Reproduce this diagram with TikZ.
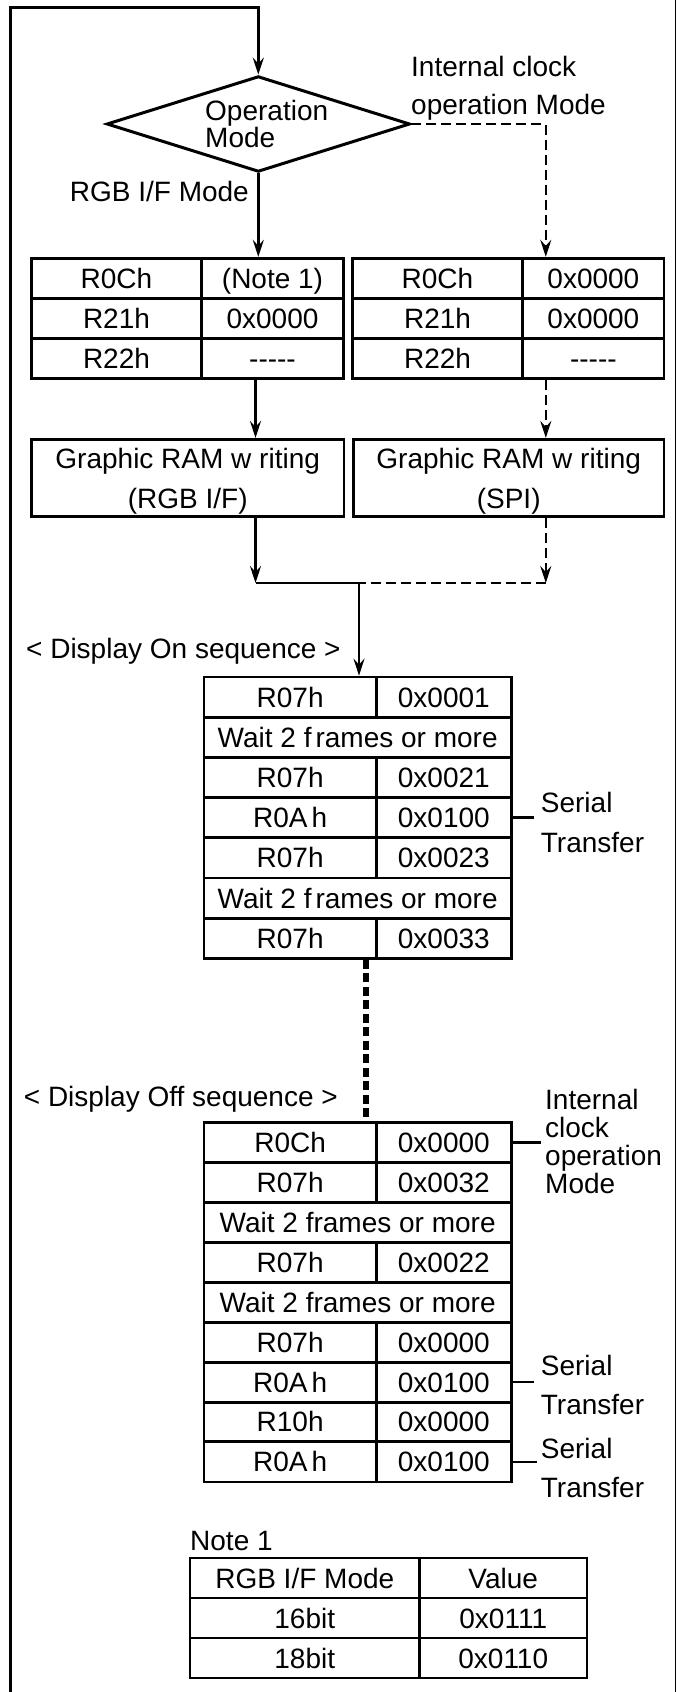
\documentclass[tikz,border=0pt]{standalone}
\usepackage{fontspec}
\setmainfont{Liberation Sans}
\usetikzlibrary{shapes.geometric,arrows.meta,calc}

\begin{document}
\begin{tikzpicture}[x=1pt,y=1pt,yscale=-1,xscale=1,
  txt/.style={inner sep=0pt,font=\fontsize{28}{34}\selectfont},
  cell/.style={draw,line width=2.7pt,inner sep=0pt,minimum height=40.2pt,text height=20pt,text depth=0pt,font=\fontsize{28}{34}\selectfont},
  rambox/.style={draw,line width=2.7pt,inner sep=0pt,align=center,text depth=0pt,font=\fontsize{28}{40}\selectfont},
  flow/.style={line width=2.5pt,-{Stealth[length=17pt,width=11pt,inset=6pt]}},
  dflow/.style={flow,dash pattern=on 10pt off 5pt},
  plain/.style={line width=2.5pt},
  dplain/.style={plain,dash pattern=on 10pt off 5pt}]
\useasboundingbox (0,0) rectangle (677,1692);

%Coordinates used by the connectors
\coordinate (loopbot) at (10,1692);
\coordinate (looptop) at (258.3,7);
\coordinate (lcol) at (255.5,0);
\coordinate (rcol) at (545.8,0);
\coordinate (merge) at (359,583);
\coordinate (seqlink) at (365.5,0);
\coordinate (onserend) at (534,817.7);
\coordinate (offintend) at (540.6,1142.65);
\coordinate (offser1end) at (534,1382.05);
\coordinate (offser2end) at (536.7,1461.85);

%Straight Lines
\draw [line width=1.2pt] (675.5,0) -- (675.5,1692);

%Shape: Diamond
\draw (258.3,124) node [diamond,draw,line width=3pt,minimum width=303.3pt,minimum height=95.7pt,inner sep=0pt] (mode) {};
% Text Node
\draw (205,124) node [txt,anchor=west,align=left,font=\fontsize{28}{27.7}\selectfont] (modetxt) {Operation\\Mode};
% Text Node
\draw (411,88.5) node [txt,anchor=west,align=left,font=\fontsize{28}{37.6}\selectfont] (inttxt) {Internal clock\\operation Mode};
% Text Node
\draw (249,201) node [txt,anchor=base east] (rgbtxt) {RGB I/F Mode};

%Table: RGB I/F registers
\draw (116.5,278.3) node [cell,minimum width=170.4pt] (rgbA1) {R0Ch};
\draw (272.5,278.3) node [cell,minimum width=141.6pt] (rgbB1) {(Note 1)};
\draw (116.5,318.3) node [cell,minimum width=170.4pt] (rgbA2) {R21h};
\draw (272.5,318.3) node [cell,minimum width=141.6pt] (rgbB2) {0x0000};
\draw (116.5,358.3) node [cell,minimum width=170.4pt] (rgbA3) {R22h};
\draw (272.5,358.3) node [cell,minimum width=141.6pt] (rgbB3) {-{}-{}-{}-{}-};

%Table: internal clock registers
\draw (437.5,278.3) node [cell,minimum width=170.4pt] (intA1) {R0Ch};
\draw (593.4,278.3) node [cell,minimum width=141.3pt] (intB1) {0x0000};
\draw (437.5,318.3) node [cell,minimum width=170.4pt] (intA2) {R21h};
\draw (593.4,318.3) node [cell,minimum width=141.3pt] (intB2) {0x0000};
\draw (437.5,358.3) node [cell,minimum width=170.4pt] (intA3) {R22h};
\draw (593.4,358.3) node [cell,minimum width=141.3pt] (intB3) {-{}-{}-{}-{}-};

%Shape: Rectangle
\draw (187.7,478) node [rambox,minimum width=312.7pt,minimum height=77.4pt] (gramL) {Graphic RAM w riting\\(RGB I/F)};
%Shape: Rectangle
\draw (508.7,478) node [rambox,minimum width=310.7pt,minimum height=77.4pt] (gramR) {Graphic RAM w riting\\(SPI)};

% Text Node
\draw (26,658.3) node [txt,anchor=base west] (ontxt) {< Display On sequence >};

%Table: display on
\draw (290.15,697.1) node [cell,minimum width=172.3pt] (onA1) {R07h};
\draw (443.8,697.1) node [cell,minimum width=135pt] (onB1) {0x0001};
\draw (357.65,737.3) node [cell,minimum width=307.3pt] (onW2) {Wait 2 f\kern4pt rames or more};
\draw (290.15,777.5) node [cell,minimum width=172.3pt] (onA3) {R07h};
\draw (443.8,777.5) node [cell,minimum width=135pt] (onB3) {0x0021};
\draw (290.15,817.7) node [cell,minimum width=172.3pt] (onA4) {R0A\kern4pt h};
\draw (443.8,817.7) node [cell,minimum width=135pt] (onB4) {0x0100};
\draw (290.15,857.9) node [cell,minimum width=172.3pt] (onA5) {R07h};
\draw (443.8,857.9) node [cell,minimum width=135pt] (onB5) {0x0023};
\draw (357.65,898.1) node [cell,minimum width=307.3pt] (onW6) {Wait 2 f\kern4pt rames or more};
\draw (290.15,938.3) node [cell,minimum width=172.3pt] (onA7) {R07h};
\draw (443.8,938.3) node [cell,minimum width=135pt] (onB7) {0x0033};

% Text Node
\draw (540.7,822.3) node [txt,anchor=west,align=left,font=\fontsize{28}{39.6}\selectfont] (onser) {Serial\\Transfer};

% Text Node
\draw (23.7,1106.7) node [txt,anchor=base west] (offtxt) {< Display Off sequence >};

%Table: display off
\draw (290.15,1142.65) node [cell,minimum width=172.3pt] (offA1) {R0Ch};
\draw (443.8,1142.65) node [cell,minimum width=135pt] (offB1) {0x0000};
\draw (290.15,1182.55) node [cell,minimum width=172.3pt] (offA2) {R07h};
\draw (443.8,1182.55) node [cell,minimum width=135pt] (offB2) {0x0032};
\draw (357.65,1222.45) node [cell,minimum width=307.3pt] (offW3) {Wait 2 frames or more};
\draw (290.15,1262.35) node [cell,minimum width=172.3pt] (offA4) {R07h};
\draw (443.8,1262.35) node [cell,minimum width=135pt] (offB4) {0x0022};
\draw (357.65,1302.25) node [cell,minimum width=307.3pt] (offW5) {Wait 2 frames or more};
\draw (290.15,1342.15) node [cell,minimum width=172.3pt] (offA6) {R07h};
\draw (443.8,1342.15) node [cell,minimum width=135pt] (offB6) {0x0000};
\draw (290.15,1382.05) node [cell,minimum width=172.3pt] (offA7) {R0A\kern4pt h};
\draw (443.8,1382.05) node [cell,minimum width=135pt] (offB7) {0x0100};
\draw (290.15,1421.95) node [cell,minimum width=172.3pt] (offA8) {R10h};
\draw (443.8,1421.95) node [cell,minimum width=135pt] (offB8) {0x0000};
\draw (290.15,1461.85) node [cell,minimum width=172.3pt] (offA9) {R0A\kern4pt h};
\draw (443.8,1461.85) node [cell,minimum width=135pt] (offB9) {0x0100};

% Text Node
\draw (545,1141.8) node [txt,anchor=west,align=left,font=\fontsize{28}{28}\selectfont] (offint) {Internal\\clock\\operation\\Mode};
% Text Node
\draw (540.7,1385.3) node [txt,anchor=west,align=left,font=\fontsize{28}{39}\selectfont] (offser1) {Serial\\Transfer};
% Text Node
\draw (540.7,1467.6) node [txt,anchor=west,align=left,font=\fontsize{28}{39}\selectfont] (offser2) {Serial\\Transfer};

% Text Node
\draw (190,1550.7) node [txt,anchor=base west] (notetxt) {Note 1};

%Table: note 1
\draw (304.75,1578) node [cell,minimum width=229.5pt] (noteA1) {RGB I/F Mode};
\draw (503.25,1578) node [cell,minimum width=167.5pt] (noteB1) {Value};
\draw (304.75,1618) node [cell,minimum width=229.5pt] (noteA2) {16bit};
\draw (503.25,1618) node [cell,minimum width=167.5pt] (noteB2) {0x0111};
\draw (304.75,1658) node [cell,minimum width=229.5pt] (noteA3) {18bit};
\draw (503.25,1658) node [cell,minimum width=167.5pt] (noteB3) {0x0110};

%Connectors
\draw [flow,line width=3pt] (loopbot) |- (looptop) -- (mode.north);
\draw [flow] (mode.south) -- (mode.south |- rgbB1.north);
\draw [dflow] (mode.east) -| (rcol |- intB1.north);
\draw [flow] (rgbB3.south -| lcol) -- (lcol |- gramL.north);
\draw [dflow] (intB3.south -| rcol) -- (rcol |- gramR.north);
\draw [flow] (gramL.south -| lcol) -- (lcol |- merge);
\draw [dflow] (gramR.south -| rcol) -- (rcol |- merge);
\draw [plain] (lcol |- merge) -- (merge);
\draw [dplain] (rcol |- merge) -- (merge);
\draw [flow] (merge) -- (merge |- onA1.north);
\draw [line width=6pt,dash pattern=on 9pt off 4.5pt] (onA7.south -| seqlink) -- (seqlink |- offA1.north);
\draw [plain] (onB4.east) -- (onserend);
\draw [plain] (offB1.east) -- (offintend);
\draw [plain] (offB7.east) -- (offser1end);
\draw [plain] (offB9.east) -- (offser2end);

\end{tikzpicture}
\end{document}
